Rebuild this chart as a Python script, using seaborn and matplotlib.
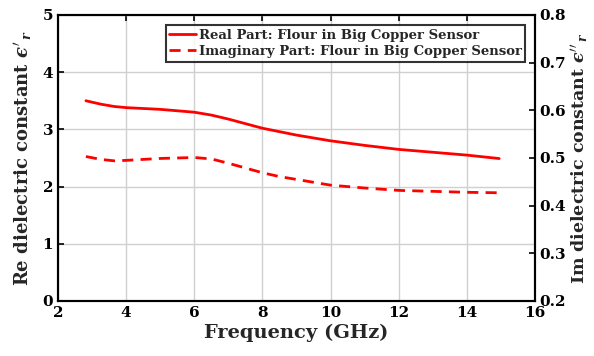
import matplotlib
matplotlib.use("Agg")
import matplotlib.pyplot as plt
import seaborn as sns
import pandas as pd

# Measured dielectric response of flour in the big copper sensor
freq_ghz = [2.82, 3.26, 3.65, 4.0, 5.0, 6.0, 6.5, 7.0, 7.5, 8.0, 8.5, 9.0, 9.5,
            10.0, 11.0, 12.0, 13.0, 14.0, 14.95]
real_part = [3.50, 3.44, 3.40, 3.38, 3.35, 3.30, 3.25, 3.18, 3.10, 3.02, 2.96,
             2.90, 2.85, 2.80, 2.72, 2.65, 2.60, 2.55, 2.49]
imag_part = [0.503, 0.497, 0.494, 0.495, 0.499, 0.501, 0.498, 0.489, 0.479,
             0.469, 0.461, 0.455, 0.449, 0.443, 0.437, 0.432, 0.430, 0.428, 0.427]

x_ticks = [2, 4, 6, 8, 10, 12, 14, 16]
left_ticks = [0, 1, 2, 3, 4, 5]
right_ticks = [0.2, 0.3, 0.4, 0.5, 0.6, 0.7, 0.8]

sns.set_style("white")
plt.rcParams["font.family"] = ["DejaVu Serif"]
plt.rcParams["font.weight"] = "bold"
plt.rcParams["mathtext.fontset"] = "dejavuserif"

df = pd.DataFrame({"freq": freq_ghz, "real": real_part, "imag": imag_part})

fig = plt.figure(figsize=(5.94, 3.56), dpi=100)
ax = fig.add_axes([0.0976, 0.1545, 0.8031, 0.8035])
ax2 = ax.twinx()

sns.lineplot(data=df, x="freq", y="real", ax=ax, color="#ff0000", lw=2,
             label="Real Part: Flour in Big Copper Sensor", legend=False)
sns.lineplot(data=df, x="freq", y="imag", ax=ax2, color="#ff0000", lw=2,
             linestyle=(0, (4, 2.6)),
             label="Imaginary Part: Flour in Big Copper Sensor", legend=False)

ax.set_xlim(2, 16)
ax.set_ylim(0, 5)
ax2.set_ylim(0.2, 0.8)
ax.set_xticks(x_ticks)
ax.set_yticks(left_ticks)
ax2.set_yticks(right_ticks)
ax.set_xticklabels([str(v) for v in x_ticks])
ax.set_yticklabels([str(v) for v in left_ticks])
ax2.set_yticklabels([f"{v:.1f}" for v in right_ticks])

ax.grid(True, color="#d0d0d0", lw=1)
ax.set_axisbelow(True)

for a in (ax, ax2):
    for s in a.spines.values():
        s.set_color("black")
        s.set_linewidth(1.5)
ax.tick_params(axis="both", direction="in", length=4, width=1.2, labelsize=11,
               top=True, right=False, colors="black")
ax2.tick_params(axis="y", direction="in", length=4, width=1.2, labelsize=11,
                colors="black", pad=3)
for lbl in ax.get_xticklabels() + ax.get_yticklabels() + ax2.get_yticklabels():
    lbl.set_fontweight("bold")

ax.set_xlabel("Frequency (GHz)", fontsize=14, fontweight="bold", labelpad=3)
ax.set_ylabel("Re dielectric constant $\u03f5'_{\\,r}$", fontsize=13,
              fontweight="bold", labelpad=6)
ax2.set_ylabel("Im dielectric constant $\u03f5''_{\\,r}$", fontsize=12.5,
               fontweight="bold", labelpad=2)

h1, l1 = ax.get_legend_handles_labels()
h2, l2 = ax2.get_legend_handles_labels()
leg = ax2.legend(h1 + h2, l1 + l2, loc="upper right", bbox_to_anchor=(0.98, 0.965),
                 fontsize=9.5, frameon=True, fancybox=False, handlelength=2.0,
                 handletextpad=0.2, borderpad=0.3, labelspacing=0.2,
                 borderaxespad=0)
leg.get_frame().set_edgecolor("black")
leg.get_frame().set_linewidth(1.5)
for t in leg.get_texts():
    t.set_fontweight("bold")

fig.savefig("out.png", dpi=100)
